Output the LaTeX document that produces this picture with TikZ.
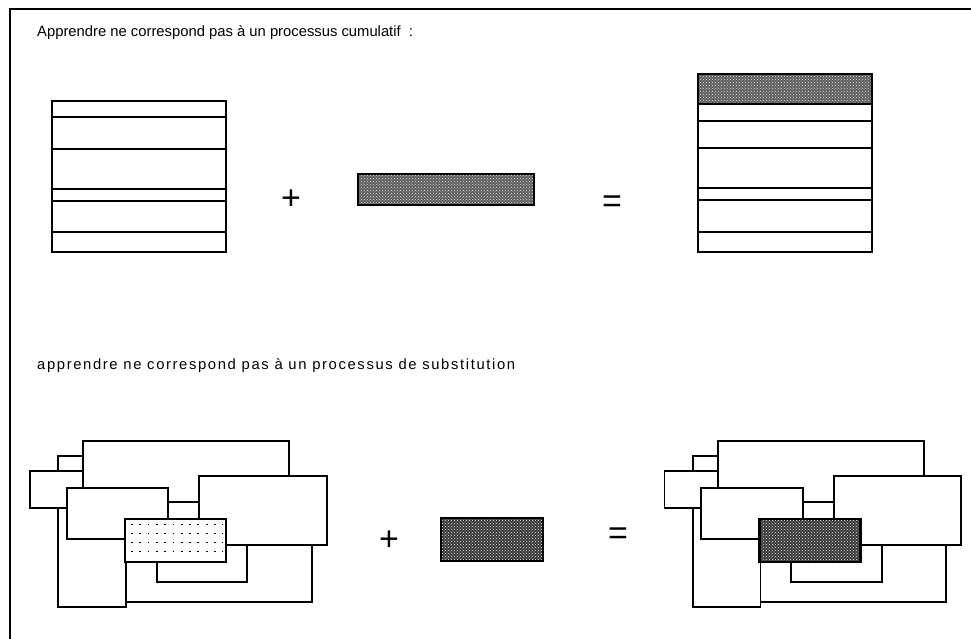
\documentclass[tikz,border=0pt]{standalone}
\usepackage{fontspec}
\setmainfont{Liberation Sans}
\newfontfamily\widefont[LetterSpace=11]{Liberation Sans}
\usetikzlibrary{patterns}
\definecolor{toner}{HTML}{5E5E5E}
\definecolor{tonerdark}{HTML}{383838}

\begin{document}
\begin{tikzpicture}[x=1pt, y=-1pt,
  frame/.style={line width=1.4pt, black},
  layer/.style={draw, line width=1.1pt},
  piece/.style={draw, fill=white, line width=1.7pt},
  toned/.style={draw, line width=1.4pt, preaction={fill=toner}, pattern=crosshatch dots, pattern color=black!12},
  darktoned/.style={draw, line width=2.2pt, preaction={fill=tonerdark}, pattern=crosshatch dots, pattern color=black!8},
  dots/.style={line width=1.5pt, dash pattern=on 1.8pt off 6.5pt},
  caption/.style={anchor=west, inner sep=0pt, font=\fontsize{14.8}{17}\selectfont},
  opsym/.style={inner sep=0pt, font=\fontsize{34}{34}\selectfont}
]
  \useasboundingbox (0,0) rectangle (971,639);
  \draw[frame] (10,639) -- (10,9) -- (971,9);

  \node[caption] (cumul) at (37,33) {Apprendre ne correspond pas à un processus cumulatif~~:};
  \node[caption, font=\fontsize{14.8}{17}\widefont] (subst) at (37,366) {apprendre ne correspond pas à un processus de substitution};

  \draw[layer] (52,101) rectangle (226,252);
  \foreach \y in {117,149,189,201,232}
    \draw[layer] (52,\y) -- (226,\y);
  \node[opsym] (plusA) at (291,200) {+};
  \draw[toned] (358,174) rectangle (534,205);
  \node[opsym] (eqA) at (612,204) {=};
  \draw[toned] (698,74) rectangle (872,104);
  \draw[layer] (698,104) rectangle (872,252);
  \foreach \y in {121,148,188,200,232}
    \draw[layer] (698,\y) -- (872,\y);

  \foreach \dx/\core in {0/piece, 634.5/darktoned} {
    \begin{scope}[xshift=\dx pt]
      \draw[piece] (123,530) rectangle (311.7,601.7);
      \draw[piece] (156.7,530) rectangle (247.3,581.7);
      \draw[piece] (58.3,500) rectangle (126,607.3);
      \draw[piece] (58.3,456) rectangle (83.3,480);
      \draw[piece] (83.3,441) rectangle (289.3,510);
      \draw[piece] (30,471) rectangle (83.3,508.3);
      \draw[piece] (168.3,502) rectangle (199.3,525);
      \draw[piece] (199.3,476) rectangle (326.7,545);
      \draw[piece] (66.7,488) rectangle (168.3,539.3);
      \draw[\core] (125,519) rectangle (226,561.7);
    \end{scope}
  }
  \foreach \y in {524.5,533.5,542.5,551.5}
    \draw[dots] (131,\y) -- (223,\y);

  \node[opsym] (plusB) at (389,541) {+};
  \draw[darktoned] (441,518) rectangle (543,561);
  \node[opsym] (eqB) at (618,536) {=};
\end{tikzpicture}
\end{document}
